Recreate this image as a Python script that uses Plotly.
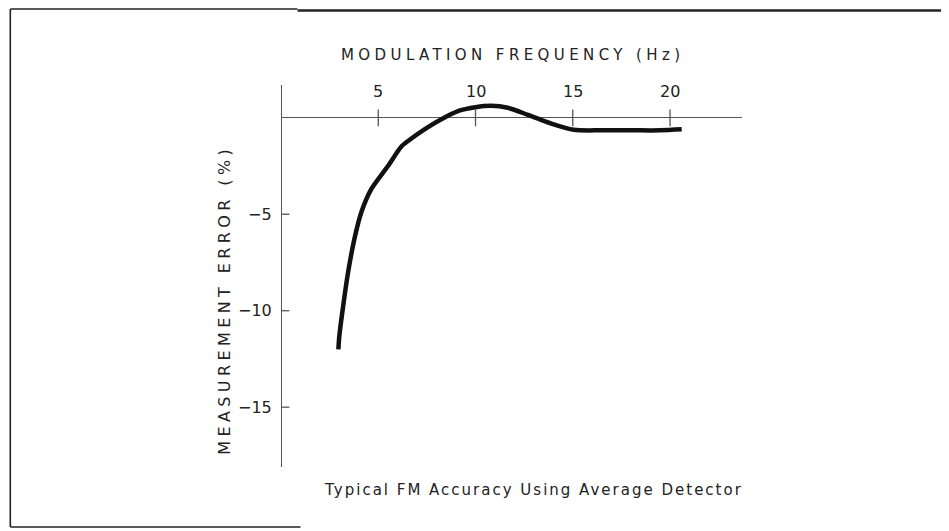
import plotly.graph_objects as go

# data
freq_hz = [2.95, 3.0, 3.19, 3.45, 3.77, 4.13, 4.64, 5.5, 6.18, 6.6, 7.3, 8.2, 9.2, 10.0, 10.8, 11.65, 12.7, 13.9, 15.05, 16.5, 18.0, 19.5, 20.6]
error_pct = [-12.0, -11.3, -9.8, -8.0, -6.3, -4.9, -3.7, -2.5, -1.5, -1.15, -0.65, -0.1, 0.38, 0.55, 0.62, 0.52, 0.15, -0.3, -0.62, -0.65, -0.65, -0.65, -0.6]
x_ticks = [5, 10, 15, 20]
x_tick_labels = ["5", "10", "15", "20"]
y_ticks = [-5, -10, -15]
y_tick_labels = ["\u22125", "\u221210", "\u221215"]
x_title = "MODULATION FREQUENCY (Hz)"
y_title = "MEASUREMENT ERROR (%)"
caption = "Typical FM Accuracy Using Average Detector"

FONT = "DejaVu Sans"
AX = "#555555"
TXT = "#222222"

# the page body has an 8px margin, so figure pixels = screen pixels - 8
OFF = 8
W, H = 949 - OFF, 531 - OFF
L = 280.5 - OFF
R = W - (742 - OFF)
T = 85 - OFF
B = H - (467 - OFF)
pw, ph = W - L - R, H - T - B


def px_x(p):  # screen pixel -> paper x
    return (p - OFF - L) / pw


def px_y(p):  # screen pixel -> paper y
    return (H - B - (p - OFF)) / ph


fig = go.Figure()

fig.add_trace(go.Scatter(
    x=freq_hz, y=error_pct, mode="lines",
    line=dict(color="#111111", width=4.5, shape="spline", smoothing=0.8),
    hoverinfo="skip", showlegend=False))

# crossing ticks
fig.add_trace(go.Scatter(
    x=x_ticks, y=[0] * len(x_ticks), mode="markers",
    marker=dict(symbol="line-ns", size=12, line=dict(color=AX, width=1.3)),
    hoverinfo="skip", showlegend=False))
fig.add_trace(go.Scatter(
    x=[0] * len(y_ticks), y=y_ticks, mode="markers",
    marker=dict(symbol="line-ew", size=12, line=dict(color=AX, width=1.3)),
    hoverinfo="skip", showlegend=False))

annotations = []
for v, t in zip(x_ticks, x_tick_labels):
    annotations.append(dict(x=v, y=0, xref="x", yref="y", text=t, showarrow=False,
                            xanchor="center", yanchor="bottom", yshift=15,
                            font=dict(family=FONT, size=16, color=TXT)))
for v, t in zip(y_ticks, y_tick_labels):
    annotations.append(dict(x=0, y=v, xref="x", yref="y", text=t, showarrow=False,
                            xanchor="right", yanchor="middle", xshift=-7,
                            font=dict(family=FONT, size=16, color=TXT)))

annotations.append(dict(x=px_x(512), y=px_y(55), xref="paper", yref="paper",
                        text=x_title, showarrow=False, xanchor="center", yanchor="middle",
                        font=dict(family=FONT, size=15, color=TXT)))
annotations.append(dict(x=px_x(223), y=px_y(300), xref="paper", yref="paper",
                        text=y_title, showarrow=False, textangle=-90,
                        xanchor="center", yanchor="middle",
                        font=dict(family=FONT, size=16, color=TXT)))
annotations.append(dict(x=px_x(533.5), y=px_y(490), xref="paper", yref="paper",
                        text=caption, showarrow=False, xanchor="center", yanchor="middle",
                        font=dict(family=FONT, size=15, color=TXT)))

fig.update_layout(
    width=W, height=H,
    margin=dict(l=L, r=R, t=T, b=B, pad=0),
    paper_bgcolor="white", plot_bgcolor="white",
    xaxis=dict(range=[0, 23.7], showgrid=False, showticklabels=False, ticks="",
               zeroline=True, zerolinecolor=AX, zerolinewidth=1.3, showline=False, fixedrange=True),
    yaxis=dict(range=[-18.1, 1.7], showgrid=False, showticklabels=False, ticks="",
               zeroline=True, zerolinecolor=AX, zerolinewidth=1.3, showline=False, fixedrange=True),
    annotations=annotations,
)

# frame around the picture (screen pixels)
frame = [
    (9.5, 9.5, 9, 527, 1.6),
    (9.5, 297, 9, 9, 1.5),
    (297, 949, 10.5, 10.5, 2.5),
    (9.5, 300, 527, 527, 1.6),
]
for x0, x1, y0, y1, w in frame:
    fig.add_shape(type="line", xref="paper", yref="paper",
                  x0=px_x(x0), x1=px_x(x1), y0=px_y(y0), y1=px_y(y1),
                  line=dict(color="#222", width=w))

post = """
var sp = {"MODULATION FREQUENCY (Hz)": "4.4px",
          "MEASUREMENT ERROR (%)": "4.4px",
          "Typical FM Accuracy Using Average Detector": "2px"};
document.querySelectorAll('.annotation-text').forEach(function(el){
  var s = sp[el.textContent];
  if (s) { el.setAttribute('letter-spacing', s); }
});
"""

fig.write_html("out.html", post_script=post)
